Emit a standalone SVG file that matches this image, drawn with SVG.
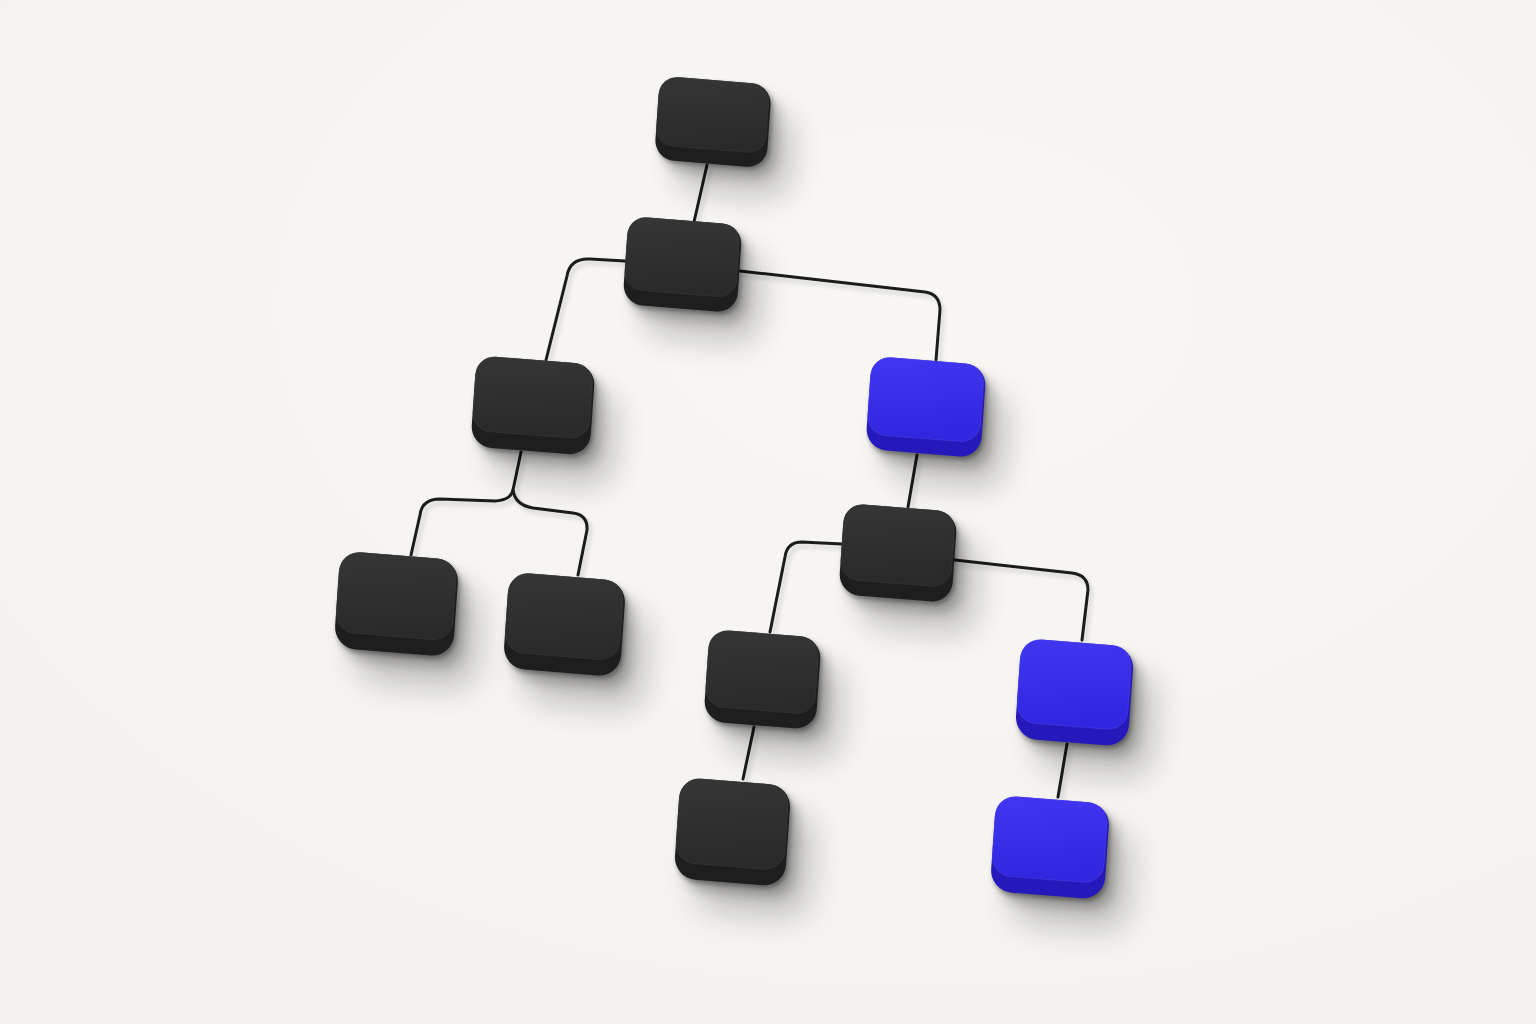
<svg xmlns="http://www.w3.org/2000/svg" width="1536" height="1024" viewBox="0 0 1536 1024">
  <defs>
    <radialGradient id="bg" cx="0.6" cy="0.3" r="0.9">
      <stop offset="0" stop-color="#f8f7f4"/>
      <stop offset="1" stop-color="#f2f1ee"/>
    </radialGradient>
    <linearGradient id="gk" x1="0" y1="0" x2="0.2" y2="1">
      <stop offset="0" stop-color="#363636"/>
      <stop offset="1" stop-color="#2a2a2a"/>
    </linearGradient>
    <linearGradient id="gb" x1="0" y1="0" x2="0.2" y2="1">
      <stop offset="0" stop-color="#4237f0"/>
      <stop offset="1" stop-color="#3227e0"/>
    </linearGradient>
    <filter id="soft" x="-60%" y="-60%" width="220%" height="220%">
      <feGaussianBlur stdDeviation="16"/>
    </filter>
    <filter id="mid" x="-40%" y="-40%" width="180%" height="180%">
      <feGaussianBlur stdDeviation="6"/>
    </filter>
    <filter id="tight" x="-30%" y="-30%" width="160%" height="160%">
      <feGaussianBlur stdDeviation="2"/>
    </filter>
    <filter id="lineShadow" x="-10%" y="-10%" width="120%" height="120%">
      <feDropShadow dx="3" dy="4" stdDeviation="2" flood-color="#000" flood-opacity="0.15"/>
    </filter>
    <style>
      .sh { fill:#000; opacity:0.22; filter:url(#soft); }
      .ms { fill:#000; opacity:0.22; filter:url(#mid); }
      .cs { fill:#000; opacity:0.35; filter:url(#tight); }
      .side-k { fill:#1e1e1e; }
      .top-k { fill:url(#gk); stroke:#ffffff; stroke-opacity:0.05; stroke-width:1; }
      .side-b { fill:#2619bc; }
      .top-b { fill:url(#gb); stroke:#ffffff; stroke-opacity:0.08; stroke-width:1; }
      .wire { fill:none; stroke:#1d1d1d; stroke-width:3; stroke-linecap:round; stroke-linejoin:round; }
    </style>
  </defs>

  <rect width="1536" height="1024" fill="url(#bg)"/>

  <g id="connectors" filter="url(#lineShadow)">
    <path class="wire" d="M707,165 L694,222"/>
    <path class="wire" d="M625,261 L590,259 Q570,258 567,276 L546,360"/>
    <path class="wire" d="M740,271 L925,292 Q940,294 940,310 L936,360"/>
    <path class="wire" d="M521,452 L513,490 Q511,500 495,501 L440,499 Q422,499 420,515 L411,555"/>
    <path class="wire" d="M513,490 Q515,505 533,508 L573,513 Q588,515 587,530 L578,575"/>
    <path class="wire" d="M917,455 L908,507"/>
    <path class="wire" d="M842,544 L802,542 Q787,542 785,557 L770,632"/>
    <path class="wire" d="M955,560 L1072,573 Q1088,575 1088,590 L1082,640"/>
    <path class="wire" d="M754,727 L743,779"/>
    <path class="wire" d="M1067,744 L1058,797"/>
  </g>

  <g id="n1" transform="translate(713,122) matrix(1,0.08,-0.07,1,0,0)">
    <rect class="sh" x="-32.5" y="-14" width="112" height="83.5" rx="20"/>
    <rect class="ms" x="-47.5" y="-32" width="112" height="83.5" rx="20"/>
    <rect class="cs" x="-54" y="-39.5" width="112" height="83.5" rx="20"/>
    <rect class="side-k" x="-56" y="-41.75" width="112" height="83.5" rx="20"/>
    <rect class="top-k" x="-56" y="-41.75" width="110" height="69" rx="18"/>
  </g>
  <g id="n2" transform="translate(682.5,264.5) matrix(1,0.08,-0.07,1,0,0)">
    <rect class="sh" x="-33.5" y="-16" width="114" height="88" rx="20"/>
    <rect class="ms" x="-48.5" y="-34" width="114" height="88" rx="20"/>
    <rect class="cs" x="-55" y="-41" width="114" height="88" rx="20"/>
    <rect class="side-k" x="-57" y="-44" width="114" height="88" rx="20"/>
    <rect class="top-k" x="-57" y="-44" width="112" height="73" rx="18"/>
  </g>
  <g id="n3" transform="translate(533,405.5) matrix(1,0.08,-0.07,1,0,0)">
    <rect class="sh" x="-35.5" y="-17" width="119" height="91" rx="21"/>
    <rect class="ms" x="-50.5" y="-35" width="119" height="91" rx="21"/>
    <rect class="cs" x="-57.5" y="-42.5" width="119" height="91" rx="21"/>
    <rect class="side-k" x="-59.5" y="-45.5" width="119" height="91" rx="21"/>
    <rect class="top-k" x="-59.5" y="-45.5" width="117" height="75" rx="19"/>
  </g>
  <g id="n4" transform="translate(926,407) matrix(1,0.08,-0.07,1,0,0)">
    <rect class="sh" x="-33.5" y="-18" width="115" height="93" rx="21"/>
    <rect class="ms" x="-48.5" y="-36" width="115" height="93" rx="21"/>
    <rect class="cs" x="-55.5" y="-43.5" width="115" height="93" rx="21"/>
    <rect class="side-b" x="-57.5" y="-46.5" width="115" height="93" rx="21"/>
    <rect class="top-b" x="-57.5" y="-46.5" width="113" height="78" rx="19"/>
  </g>
  <g id="n5" transform="translate(396.5,604) matrix(1,0.08,-0.07,1,0,0)">
    <rect class="sh" x="-35.5" y="-19" width="119" height="97" rx="22"/>
    <rect class="ms" x="-50.5" y="-38" width="119" height="97" rx="22"/>
    <rect class="cs" x="-57.5" y="-45.5" width="119" height="97" rx="22"/>
    <rect class="side-k" x="-59.5" y="-48.5" width="119" height="97" rx="22"/>
    <rect class="top-k" x="-59.5" y="-48.5" width="117" height="81" rx="20"/>
  </g>
  <g id="n6" transform="translate(564.5,624.5) matrix(1,0.08,-0.07,1,0,0)">
    <rect class="sh" x="-34.5" y="-18" width="117" height="96" rx="22"/>
    <rect class="ms" x="-49.5" y="-37" width="117" height="96" rx="22"/>
    <rect class="cs" x="-56.5" y="-45" width="117" height="96" rx="22"/>
    <rect class="side-k" x="-58.5" y="-48" width="117" height="96" rx="22"/>
    <rect class="top-k" x="-58.5" y="-48" width="115" height="80" rx="20"/>
  </g>
  <g id="n7" transform="translate(898,553) matrix(1,0.08,-0.07,1,0,0)">
    <rect class="sh" x="-32.5" y="-17" width="113" height="91" rx="21"/>
    <rect class="ms" x="-47.5" y="-35" width="113" height="91" rx="21"/>
    <rect class="cs" x="-54.5" y="-42.5" width="113" height="91" rx="21"/>
    <rect class="side-k" x="-56.5" y="-45.5" width="113" height="91" rx="21"/>
    <rect class="top-k" x="-56.5" y="-45.5" width="111" height="76" rx="19"/>
  </g>
  <g id="n8" transform="translate(762.5,679.5) matrix(1,0.08,-0.07,1,0,0)">
    <rect class="sh" x="-32" y="-18" width="112" height="92" rx="21"/>
    <rect class="ms" x="-47" y="-36" width="112" height="92" rx="21"/>
    <rect class="cs" x="-54" y="-43" width="112" height="92" rx="21"/>
    <rect class="side-k" x="-56" y="-46" width="112" height="92" rx="21"/>
    <rect class="top-k" x="-56" y="-46" width="110" height="77" rx="19"/>
  </g>
  <g id="n9" transform="translate(1074.5,692.5) matrix(1,0.08,-0.07,1,0,0)">
    <rect class="sh" x="-32.5" y="-22" width="113" height="100" rx="22"/>
    <rect class="ms" x="-47.5" y="-40" width="113" height="100" rx="22"/>
    <rect class="cs" x="-54.5" y="-47" width="113" height="100" rx="22"/>
    <rect class="side-b" x="-56.5" y="-50" width="113" height="100" rx="22"/>
    <rect class="top-b" x="-56.5" y="-50" width="111" height="84" rx="20"/>
  </g>
  <g id="n10" transform="translate(732.5,832) matrix(1,0.08,-0.07,1,0,0)">
    <rect class="sh" x="-31.5" y="-22" width="111" height="101" rx="22"/>
    <rect class="ms" x="-46.5" y="-40" width="111" height="101" rx="22"/>
    <rect class="cs" x="-53.5" y="-47.5" width="111" height="101" rx="22"/>
    <rect class="side-k" x="-55.5" y="-50.5" width="111" height="101" rx="22"/>
    <rect class="top-k" x="-55.5" y="-50.5" width="109" height="85" rx="20"/>
  </g>
  <g id="n11" transform="translate(1050,847.5) matrix(1,0.08,-0.07,1,0,0)">
    <rect class="sh" x="-33" y="-20" width="114" height="96" rx="22"/>
    <rect class="ms" x="-48" y="-38" width="114" height="96" rx="22"/>
    <rect class="cs" x="-55" y="-45" width="114" height="96" rx="22"/>
    <rect class="side-b" x="-57" y="-48" width="114" height="96" rx="22"/>
    <rect class="top-b" x="-57" y="-48" width="112" height="80" rx="20"/>
  </g>
</svg>
